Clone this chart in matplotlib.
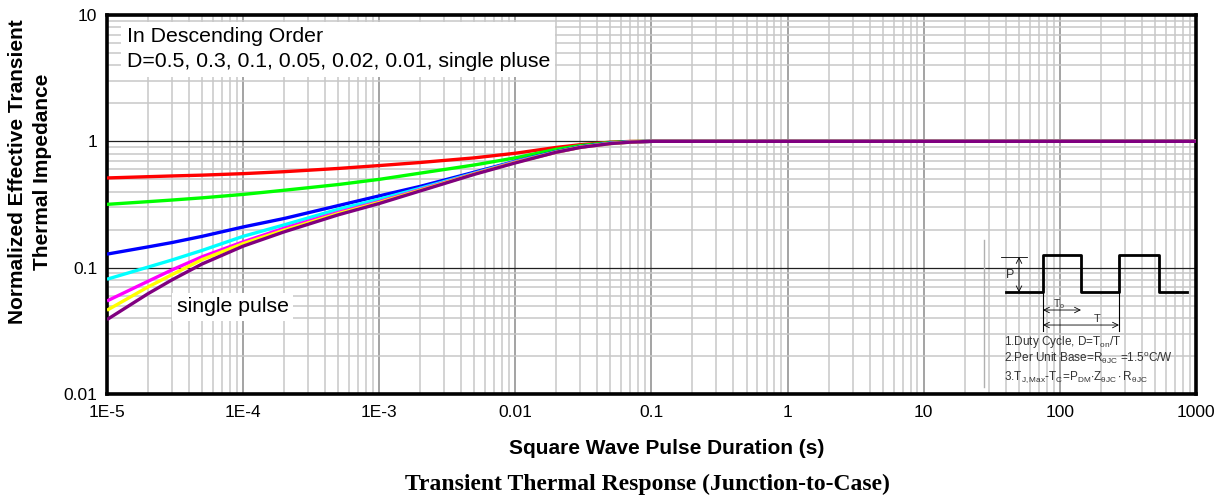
import matplotlib.pyplot as plt
from matplotlib.ticker import NullFormatter

plt.rcParams['font.family'] = ['Liberation Sans', 'DejaVu Sans']
plt.rcParams['mathtext.fontset'] = 'custom'
plt.rcParams['mathtext.rm'] = 'Liberation Sans'
plt.rcParams['mathtext.it'] = 'Liberation Sans:italic'

# pulse duration (s)
t = [1e-5, 2e-5, 3e-5, 5e-5, 1e-4, 2e-4, 5e-4, 1e-3, 2e-3, 5e-3,
     1e-2, 2e-2, 3e-2, 5e-2, 7e-2, 1e-1, 1e3]

# normalized Zth for each duty cycle
z_d05 = [0.513, 0.525, 0.532, 0.540, 0.555, 0.575, 0.610, 0.643, 0.680, 0.740,
         0.805, 0.895, 0.940, 0.985, 0.998, 1.0, 1.0]
z_d03 = [0.317, 0.333, 0.343, 0.357, 0.380, 0.410, 0.455, 0.500, 0.560, 0.650,
         0.740, 0.865, 0.925, 0.980, 0.995, 1.0, 1.0]
z_d01 = [0.128, 0.146, 0.158, 0.177, 0.210, 0.245, 0.310, 0.370, 0.440, 0.570,
         0.695, 0.830, 0.905, 0.970, 0.990, 1.0, 1.0]
z_d005 = [0.081, 0.101, 0.115, 0.137, 0.177, 0.218, 0.290, 0.348, 0.425, 0.560,
          0.690, 0.825, 0.900, 0.965, 0.988, 1.0, 1.0]
z_d002 = [0.0545, 0.078, 0.096, 0.122, 0.160, 0.205, 0.274, 0.333, 0.415, 0.555,
          0.685, 0.820, 0.898, 0.962, 0.987, 1.0, 1.0]
z_d001 = [0.046, 0.0703, 0.088, 0.116, 0.155, 0.198, 0.268, 0.328, 0.410, 0.552,
          0.680, 0.820, 0.897, 0.960, 0.986, 1.0, 1.0]
z_single = [0.0388, 0.0622, 0.080, 0.107, 0.148, 0.192, 0.262, 0.322, 0.405, 0.548,
            0.675, 0.820, 0.895, 0.960, 0.985, 1.0, 1.0]

series = [z_d05, z_d03, z_d01, z_d005, z_d002, z_d001, z_single]
colors = ['#ff0000', '#00ff00', '#0000ff', '#00ffff', '#ff00ff', '#ffff00', '#800080']

xticks = [1e-5, 1e-4, 1e-3, 1e-2, 1e-1, 1, 10, 100, 1000]
xlabels = ['1E-5', '1E-4', '1E-3', '0.01', '0.1', '1', '10', '100', '1000']
yticks = [0.01, 0.1, 1, 10]
ylabels = ['0.01', '0.1', '1', '10']

fig = plt.figure(figsize=(12.24, 5.0), dpi=100)
ax = fig.add_axes([0.0874, 0.212, 0.8897, 0.758])

for z, c in zip(series, colors):
    ax.plot(t, z, color=c, lw=2.4, solid_capstyle='butt', zorder=3)

ax.set_xscale('log')
ax.set_yscale('log')
ax.set_xlim(1e-5, 1000)
ax.set_ylim(0.01, 10)
ax.set_xticks(xticks, xlabels)
ax.set_yticks(yticks, ylabels)
ax.xaxis.set_minor_formatter(NullFormatter())
ax.yaxis.set_minor_formatter(NullFormatter())
ax.tick_params(which='both', length=0, labelsize=12.5)
ax.tick_params(axis='x', pad=8)
ax.tick_params(axis='y', pad=7)

ax.grid(which='minor', axis='both', color='#c8c8c8', lw=1.1, zorder=0)
ax.grid(which='major', axis='x', color='#8a8a8a', lw=1.1, zorder=0)
ax.grid(which='major', axis='y', color='#202020', lw=0.9, zorder=0)
ax.set_axisbelow(True)
for s in ax.spines.values():
    s.set_linewidth(2.6)

ax.text(0.018, 0.968, 'In Descending Order\nD=0.5, 0.3, 0.1, 0.05, 0.02, 0.01, single pluse',
        transform=ax.transAxes, fontsize=15.3, va='top', ha='left', linespacing=1.4,
        bbox=dict(facecolor='white', edgecolor='none', pad=4), zorder=4)
ax.text(0.064, 0.23, 'single pulse', transform=ax.transAxes, fontsize=15.3,
        va='center', ha='left',
        bbox=dict(facecolor='white', edgecolor='none', pad=3), zorder=4)

# pulse train sketch (axes fraction)
tr = ax.transAxes
wx = [0.8255, 0.8595, 0.8595, 0.8944, 0.8944, 0.9293, 0.9293, 0.966, 0.966, 0.9917]
wy = [0.2683, 0.2683, 0.3668, 0.3668, 0.2683, 0.2683, 0.3668, 0.3668, 0.2683, 0.2683]
ax.plot(wx, wy, color='black', lw=2.0, transform=tr, zorder=5)
ax.plot([0.805, 0.805], [0.018, 0.406], color='#b0b0b0', lw=1.0, transform=tr, zorder=2)
ax.plot([0.821, 0.845], [0.3615, 0.3615], color='black', lw=0.6, transform=tr, zorder=5)
ax.plot([0.8595, 0.8595], [0.2683, 0.166], color='black', lw=0.8, transform=tr, zorder=5)
ax.plot([0.9293, 0.9293], [0.2683, 0.166], color='black', lw=0.8, transform=tr, zorder=5)
arw = dict(arrowstyle='<->', lw=0.6, color='black', shrinkA=0, shrinkB=0)
ax.annotate('', xy=(0.8375, 0.3615), xytext=(0.8375, 0.2683), xycoords=tr, arrowprops=arw, zorder=5)
ax.annotate('', xy=(0.8595, 0.2216), xytext=(0.8944, 0.2216), xycoords=tr, arrowprops=arw, zorder=5)
ax.annotate('', xy=(0.8595, 0.182), xytext=(0.9293, 0.182), xycoords=tr, arrowprops=arw, zorder=5)
ax.text(0.829, 0.314, 'P', transform=tr, fontsize=9, ha='center', va='center', color='#333333')
ax.text(0.8745, 0.2375, r'T$_{\mathregular{o}}$', transform=tr, fontsize=7.5, ha='center',
        va='center', color='#333333')
ax.text(0.909, 0.198, 'T', transform=tr, fontsize=8, ha='center', va='center', color='#333333')
notes = [r'1.Duty Cycle, D=T$_{\mathregular{on}}$/T',
         r'2.Per Unit Base=R$_{\mathregular{\theta JC}}$ =1.5$^{\mathregular{o}}$C/W',
         r'3.T$_{\mathregular{J,Max}}$-T$_{\mathregular{C}}$=P$_{\mathregular{DM}}$'
         r'$\cdot$Z$_{\mathregular{\theta JC}}\cdot$R$_{\mathregular{\theta JC}}$']
for txt, yy in zip(notes, [0.138, 0.095, 0.0456]):
    ax.text(0.8235, yy, txt, transform=tr, fontsize=8.5, ha='left', va='center', color='#333333')

fig.text(0.0245, 0.656, 'Normalized Effective Transient\nThermal Impedance', rotation=90,
         ha='center', va='center', fontsize=15, fontweight='bold', linespacing=1.35)
fig.text(0.545, 0.104, 'Square Wave Pulse Duration (s)', ha='center', va='center',
         fontsize=15, fontweight='bold')
fig.text(0.529, 0.032, 'Transient Thermal Response (Junction-to-Case)', ha='center',
         va='center', fontsize=17, fontweight='bold', family='Liberation Serif')

fig.savefig('out.png', dpi=100)
